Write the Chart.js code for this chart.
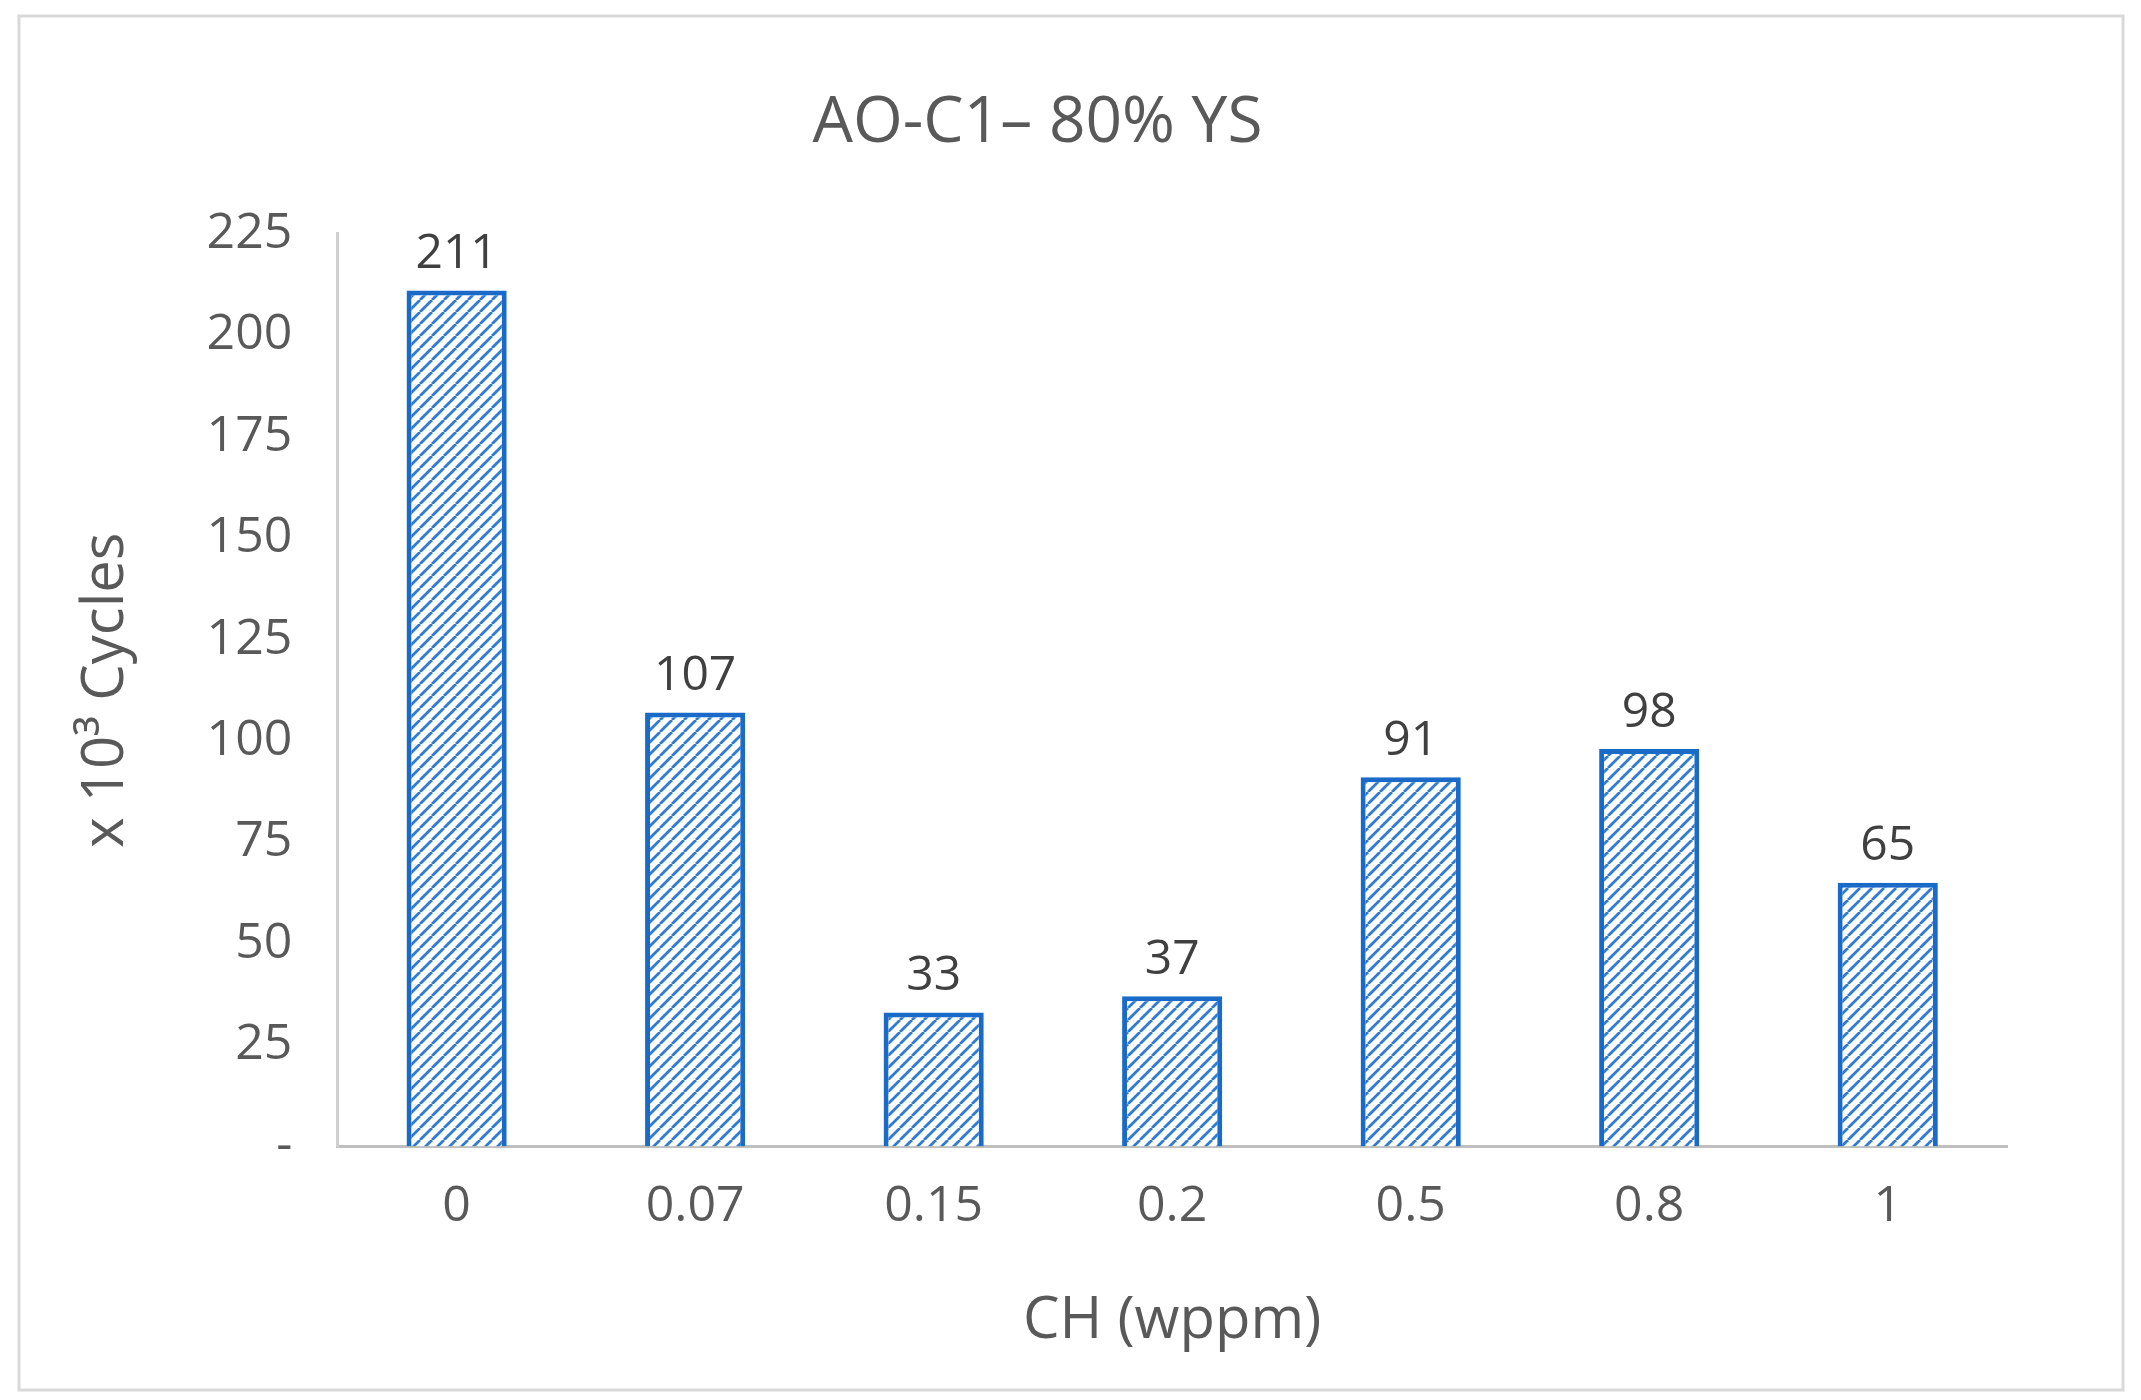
<!DOCTYPE html>
<html><head><meta charset="utf-8">
<script src="https://cdn.jsdelivr.net/npm/chart.js@4"></script>
<style>html,body{margin:0;padding:0;background:#fff}#wrap{position:absolute;left:0;top:0;width:2141px;height:1400px}</style>
</head><body><div id="wrap"><canvas id="c" width="2141" height="1400"></canvas></div>
<script>
const categories = ["0","0.07","0.15","0.2","0.5","0.8","1"];
const cycles = [211,107,33,37,91,98,65];
const yTicks = [0,25,50,75,100,125,150,175,200,225];

function hatch(){
  const s=12,p=document.createElement('canvas');p.width=s;p.height=s;
  const g=p.getContext('2d');g.fillStyle='#fff';g.fillRect(0,0,s,s);
  g.strokeStyle='#2E7BD0';g.lineWidth=2.8;
  g.beginPath();
  for(let k=-1;k<=1;k++){g.moveTo(k*s,s);g.lineTo(k*s+s,0);}
  g.stroke();
  return g.createPattern(p,'repeat');
}
const grey='#595959';
const frame={id:'frame',beforeDraw(c){const x=c.ctx;x.save();x.fillStyle='#fff';x.fillRect(0,0,c.width,c.height);
 x.strokeStyle='#d9d9d9';x.lineWidth=3;x.strokeRect(19,16,2104,1374);x.restore();}};
const labels={id:'labels',afterDatasetsDraw(c){const x=c.ctx,m=c.getDatasetMeta(0);x.save();
 x.font='48px "Open Sans", Calibri, sans-serif';x.fillStyle='#404040';x.textAlign='center';x.textBaseline='bottom';
 m.data.forEach((b,i)=>x.fillText(String(cycles[i]),b.x,b.y-12));x.restore();}};
new Chart(document.getElementById('c'),{
 type:'bar',
 data:{labels:categories,datasets:[{data:cycles,backgroundColor:hatch(),borderColor:'#1A6AC8',borderWidth:5,borderSkipped:'bottom',categoryPercentage:0.42,barPercentage:1}]},
 options:{responsive:false,animation:false,
  layout:{padding:{left:68,right:134,top:30,bottom:40}},
  plugins:{legend:{display:false},tooltip:{enabled:false},
   title:{display:true,text:'AO-C1– 80% YS',color:grey,font:{family:'"Open Sans", Calibri, sans-serif',size:64,weight:'normal'},padding:{top:55,bottom:72}}},
  scales:{
   x:{grid:{display:false,drawTicks:false},border:{color:'#bfbfbf',width:3},
      ticks:{color:grey,font:{family:'"Open Sans", sans-serif',size:50},padding:30},
      title:{display:true,text:'CH (wppm)',color:grey,font:{family:'"Open Sans", sans-serif',size:58},padding:{top:20}}},
   y:{min:0,max:225,afterBuildTicks(a){a.ticks=yTicks.map(v=>({value:v}));},
      grid:{display:false,drawTicks:false},border:{color:'#d0d0d0',width:3},
      ticks:{color:grey,font:{family:'"Open Sans", sans-serif',size:50},padding:45,callback:v=>v===0?'-':v},
      title:{display:true,text:'x 10³ Cycles',color:grey,font:{family:'"Open Sans", sans-serif',size:58},padding:{bottom:20}}}
  }},
 plugins:[frame,labels]
});
</script></body></html>
